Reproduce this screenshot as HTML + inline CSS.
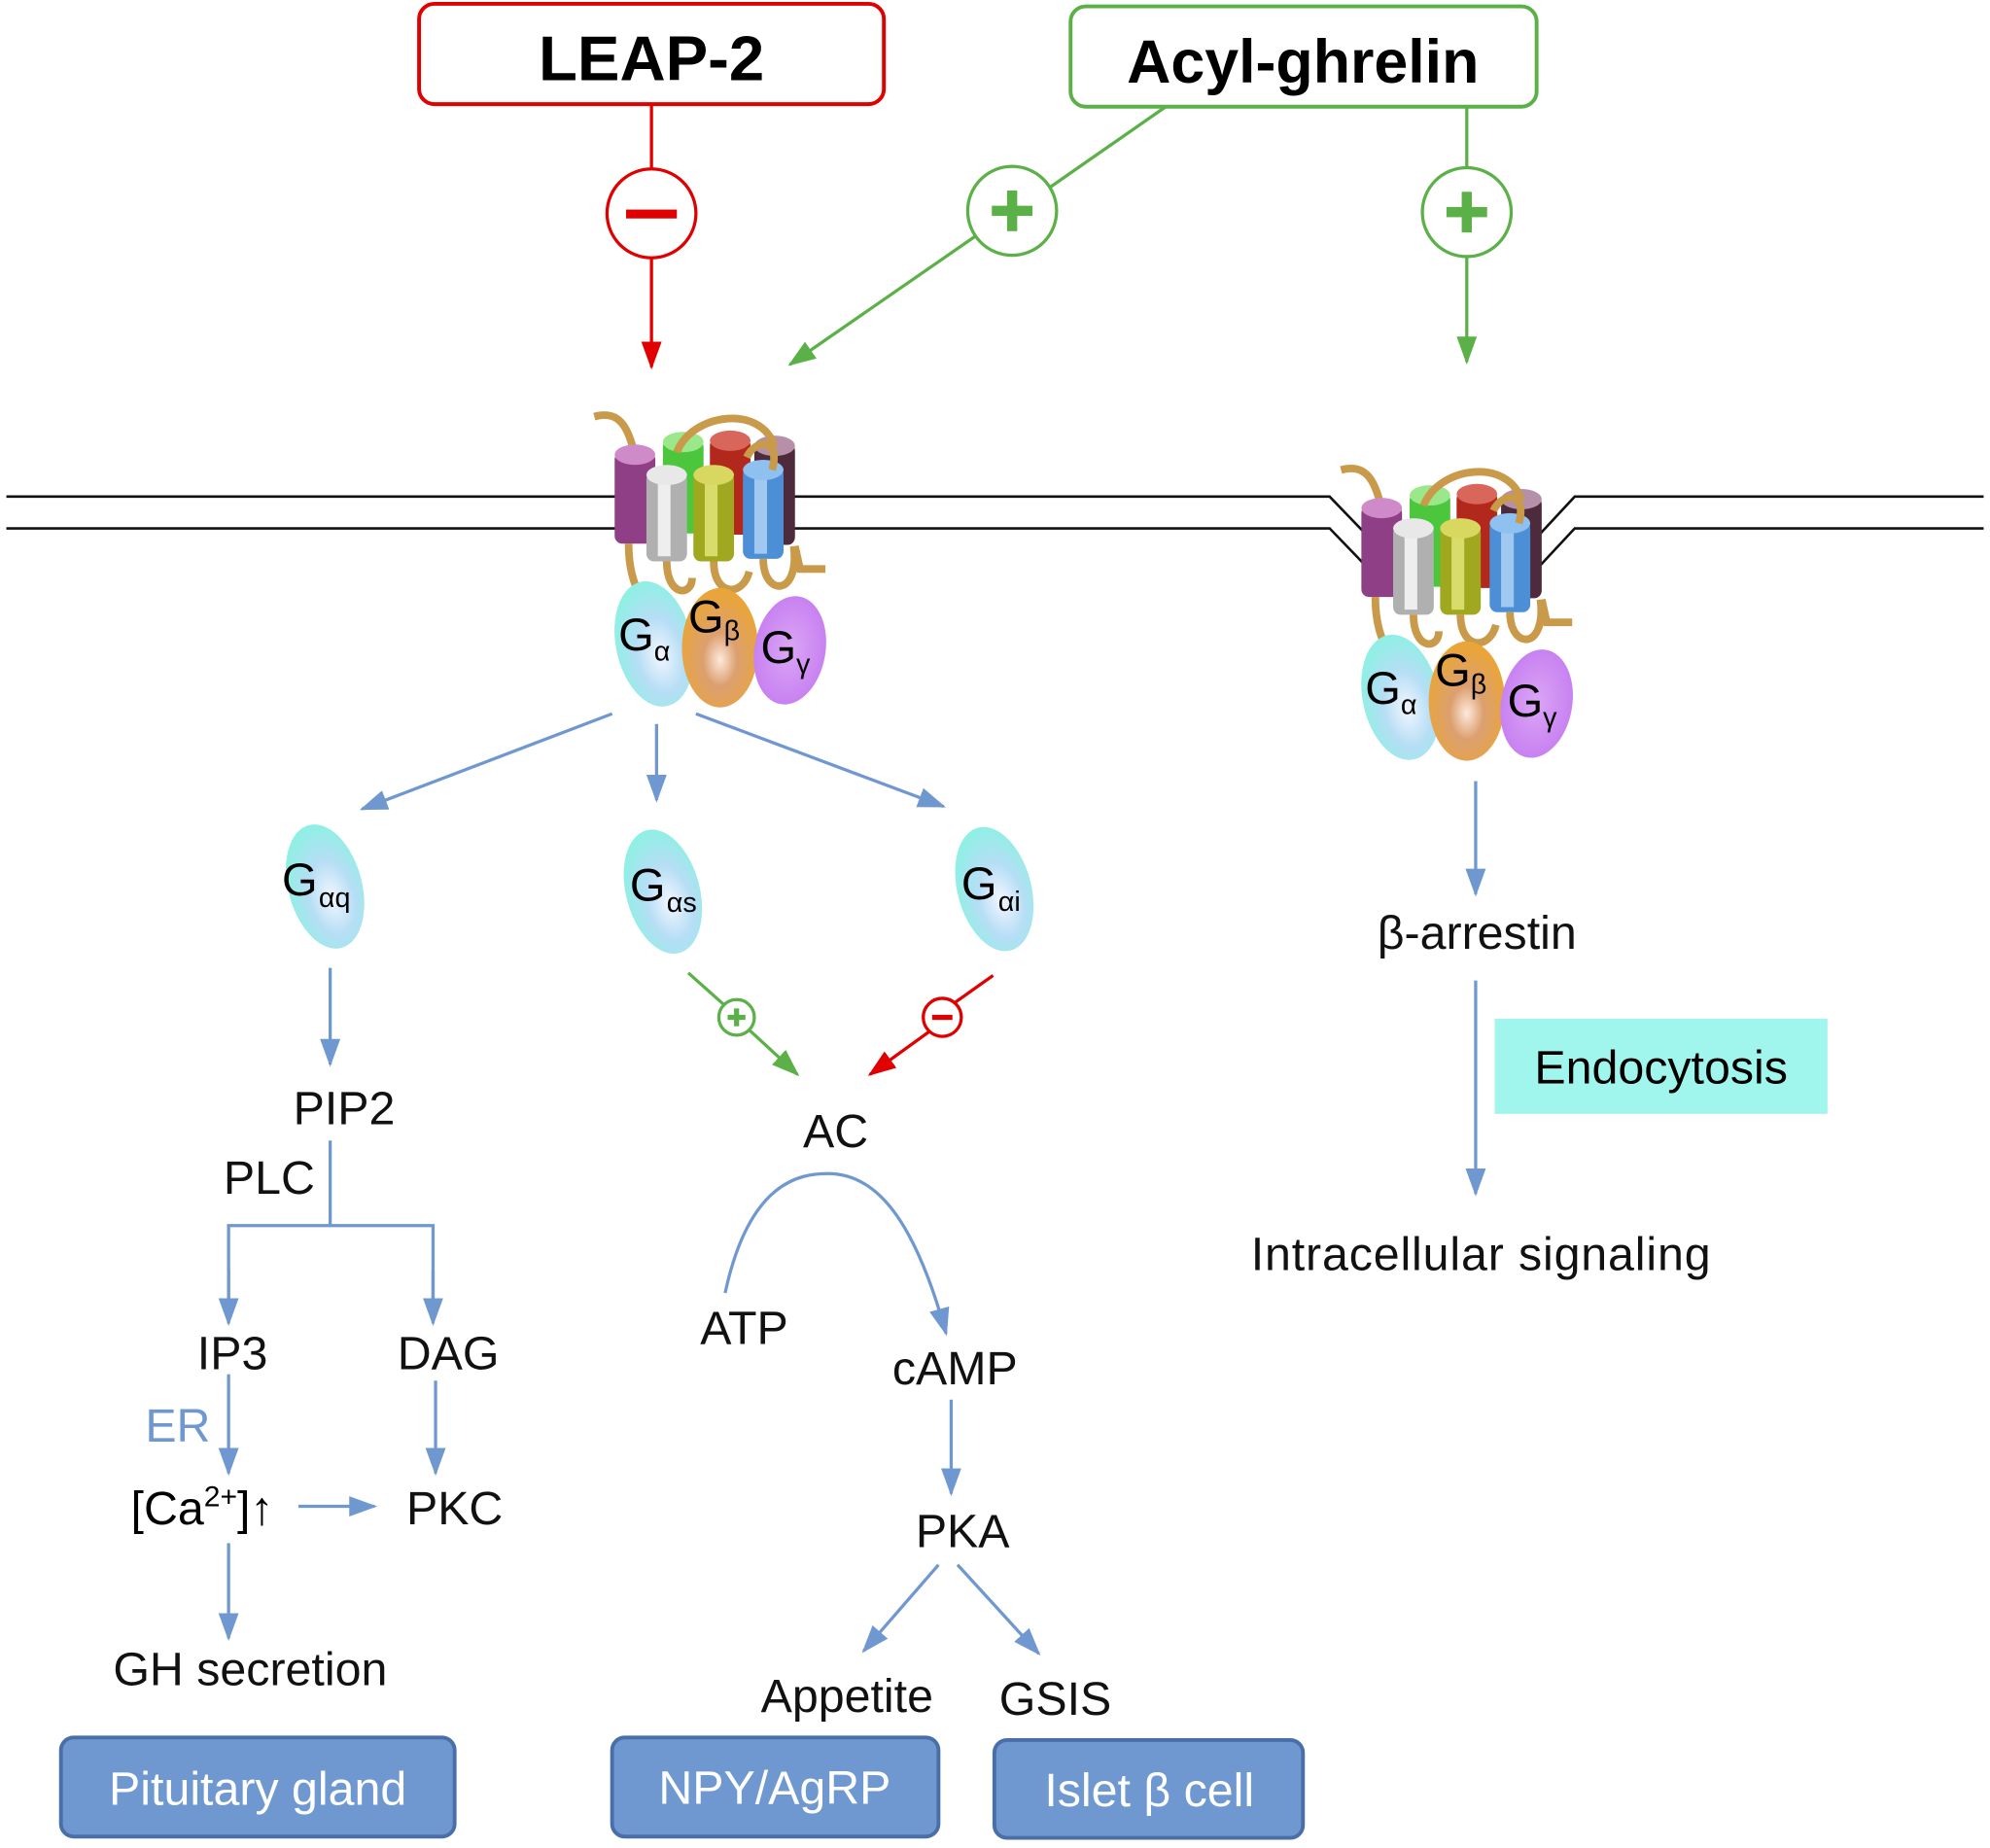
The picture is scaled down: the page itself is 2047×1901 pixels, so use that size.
<!DOCTYPE html>
<html><head><meta charset="utf-8"><style>html,body{margin:0;padding:0;background:#fff}svg{display:block}</style></head>
<body>
<svg width="2047" height="1901" viewBox="0 0 1567 1455" preserveAspectRatio="none" xmlns="http://www.w3.org/2000/svg" font-family="Liberation Sans, Arial, sans-serif">
<defs>
<marker id="ab2" markerWidth="22" markerHeight="16" refX="20" refY="8" orient="auto" markerUnits="userSpaceOnUse" viewBox="0 0 22 16"><path d="M0,0 L22,8 L0,16 z" fill="#6f98d1"/></marker>
<marker id="ar" markerWidth="22" markerHeight="16" refX="20" refY="8" orient="auto" markerUnits="userSpaceOnUse" viewBox="0 0 22 16"><path d="M0,0 L22,8 L0,16 z" fill="#e00000"/></marker>
<marker id="ag" markerWidth="22" markerHeight="16" refX="20" refY="8" orient="auto" markerUnits="userSpaceOnUse" viewBox="0 0 22 16"><path d="M0,0 L22,8 L0,16 z" fill="#5cb048"/></marker>
<radialGradient id="gc" cx="0.55" cy="0.6" r="0.6"><stop offset="0" stop-color="#f2f6ff"/><stop offset="0.5" stop-color="#b6def5"/><stop offset="1" stop-color="#8ef0e4"/></radialGradient>
<radialGradient id="go" cx="0.5" cy="0.6" r="0.55"><stop offset="0" stop-color="#fde9dc"/><stop offset="0.4" stop-color="#dca070"/><stop offset="1" stop-color="#e9a53a"/></radialGradient>
<radialGradient id="gp" cx="0.5" cy="0.5" r="0.6"><stop offset="0" stop-color="#dba6f5"/><stop offset="1" stop-color="#c47af0"/></radialGradient>
<g id="cylinders">
<path d="M468,328 C490,322 495,340 500,358" fill="none" stroke="#c99a4a" stroke-width="6"/>
<rect x="484" y="356" width="32" height="72" rx="6" fill="#8e3f86"/><ellipse cx="500" cy="358" rx="16" ry="8" fill="#cf8ac9"/>
<rect x="522" y="346" width="32" height="74" rx="6" fill="#4cc63c"/><ellipse cx="538" cy="348" rx="16" ry="8" fill="#9be88a"/>
<rect x="559" y="345" width="32" height="76" rx="6" fill="#b3281c"/><ellipse cx="575" cy="347" rx="16" ry="8" fill="#d9665a"/>
<rect x="594" y="349" width="32" height="80" rx="6" fill="#4d2a3c"/><ellipse cx="610" cy="351" rx="16" ry="8" fill="#b590a8"/>
<path d="M533,356 C545,325 600,318 610,352" fill="none" stroke="#c99a4a" stroke-width="6"/>
<rect x="509" y="372" width="32" height="70" rx="6" fill="#b0b0b0"/><rect x="518" y="376" width="10" height="62" fill="#eee"/><ellipse cx="525" cy="374" rx="16" ry="8" fill="#e8e8e8"/>
<rect x="546" y="372" width="32" height="70" rx="6" fill="#a0a820"/><rect x="555" y="376" width="10" height="62" fill="#d8dc6a"/><ellipse cx="562" cy="374" rx="16" ry="8" fill="#d8d860"/>
<rect x="585" y="368" width="32" height="72" rx="6" fill="#4d8fd6"/><rect x="594" y="372" width="10" height="64" fill="#a0c8f0"/><ellipse cx="601" cy="370" rx="16" ry="8" fill="#8ec0f0"/>
<path d="M588,360 C595,345 615,345 608,370" fill="none" stroke="#c99a4a" stroke-width="6"/>
<path d="M495,428 C495,450 500,462 505,470 M525,442 C525,470 545,470 545,455 M562,442 C562,470 585,470 590,450 M601,440 C601,470 630,470 625,430 M626,430 L630,448 L650,448" fill="none" stroke="#c99a4a" stroke-width="6"/>
</g>
<g id="gprot">
<ellipse cx="515" cy="507" rx="30" ry="50" fill="url(#gc)" transform="rotate(-12 515 507)"/>
<ellipse cx="567" cy="510" rx="30" ry="47" fill="url(#go)"/>
<ellipse cx="622" cy="512" rx="28" ry="43" fill="url(#gp)" transform="rotate(10 622 512)"/>
<text x="487" y="512" font-size="36">G</text><text x="515" y="520" font-size="22">α</text>
<text x="542" y="498" font-size="36">G</text><text x="570" y="504" font-size="22">β</text>
<text x="599" y="522" font-size="36">G</text><text x="627" y="530" font-size="22">γ</text>
</g>
</defs>

<rect x="330" y="3" width="366" height="79" rx="12" fill="#fff" stroke="#e00000" stroke-width="3"/>
<text x="513" y="63" font-size="50" font-weight="bold" text-anchor="middle">LEAP-2</text>
<rect x="843" y="5" width="367" height="79" rx="12" fill="#fff" stroke="#5cb048" stroke-width="3"/>
<text x="1026" y="65" font-size="48" font-weight="bold" text-anchor="middle">Acyl-ghrelin</text>

<line x1="513" y1="82" x2="513" y2="133" stroke="#e00000" stroke-width="2.5"/>
<circle cx="513" cy="168" r="35" fill="#fff" stroke="#e00000" stroke-width="2.5"/>
<rect x="493" y="165" width="40" height="7" fill="#e00000"/>
<line x1="513" y1="203" x2="513" y2="289" stroke="#e00000" stroke-width="2.5" marker-end="url(#ar)"/>
<line x1="918" y1="84" x2="826" y2="148" stroke="#5cb048" stroke-width="2.5"/>
<circle cx="797" cy="166" r="35" fill="#fff" stroke="#5cb048" stroke-width="2.5"/>
<rect x="781" y="162" width="32" height="8" fill="#5cb048"/><rect x="793" y="150" width="8" height="32" fill="#5cb048"/>
<line x1="768" y1="186" x2="622" y2="287" stroke="#5cb048" stroke-width="2.5" marker-end="url(#ag)"/>
<line x1="1155" y1="84" x2="1155" y2="132" stroke="#5cb048" stroke-width="2.5"/>
<circle cx="1155" cy="167" r="35" fill="#fff" stroke="#5cb048" stroke-width="2.5"/>
<rect x="1139" y="163" width="32" height="8" fill="#5cb048"/><rect x="1151" y="151" width="8" height="32" fill="#5cb048"/>
<line x1="1155" y1="202" x2="1155" y2="285" stroke="#5cb048" stroke-width="2.5" marker-end="url(#ag)"/>

<g stroke="#111" stroke-width="2" fill="none">
<polyline points="5,391 1047,391 1075,420"/><polyline points="5,416 1047,416 1075,445"/>
<polyline points="1562,391 1240,391 1213,420"/><polyline points="1562,416 1240,416 1213,445"/>
</g>
<use href="#cylinders"/><use href="#gprot"/>
<use href="#cylinders" transform="translate(588,42)"/><use href="#gprot" transform="translate(588,42)"/>

<g stroke="#6f98d1" stroke-width="2.5" fill="none">
<line x1="482" y1="562" x2="285" y2="637" marker-end="url(#ab2)"/>
<line x1="517" y1="570" x2="517" y2="630" marker-end="url(#ab2)"/>
<line x1="548" y1="562" x2="743" y2="635" marker-end="url(#ab2)"/>
<line x1="260" y1="762" x2="260" y2="838" marker-end="url(#ab2)"/>
<polyline points="260,898 260,965"/><polyline points="180,1040 180,965 341,965 341,1040"/>
<line x1="180" y1="1000" x2="180" y2="1042" marker-end="url(#ab2)"/>
<line x1="341" y1="1000" x2="341" y2="1042" marker-end="url(#ab2)"/>
<line x1="180" y1="1082" x2="180" y2="1160" marker-end="url(#ab2)"/>
<line x1="343" y1="1087" x2="343" y2="1160" marker-end="url(#ab2)"/>
<line x1="235" y1="1186" x2="295" y2="1186" marker-end="url(#ab2)"/>
<line x1="180" y1="1215" x2="180" y2="1290" marker-end="url(#ab2)"/>
<path d="M571,1018 C590,930 630,924 652,924 C690,924 720,960 745,1050" marker-end="url(#ab2)"/>
<line x1="749" y1="1102" x2="749" y2="1176" marker-end="url(#ab2)"/>
<line x1="739" y1="1232" x2="680" y2="1300" marker-end="url(#ab2)"/>
<line x1="754" y1="1232" x2="818" y2="1302" marker-end="url(#ab2)"/>
<line x1="1162" y1="615" x2="1162" y2="704" marker-end="url(#ab2)"/>
<line x1="1162" y1="772" x2="1162" y2="940" marker-end="url(#ab2)"/>
</g>

<ellipse cx="256" cy="698" rx="29" ry="50" fill="url(#gc)" transform="rotate(-15 256 698)"/>
<ellipse cx="522" cy="702" rx="29" ry="50" fill="url(#gc)" transform="rotate(-15 522 702)"/>
<ellipse cx="783" cy="700" rx="29" ry="50" fill="url(#gc)" transform="rotate(-15 783 700)"/>
<text x="222" y="705" font-size="36">G</text><text x="251" y="714" font-size="22">αq</text>
<text x="496" y="709" font-size="36">G</text><text x="525" y="718" font-size="22">αs</text>
<text x="757" y="708" font-size="36">G</text><text x="786" y="717" font-size="22">αi</text>

<line x1="542" y1="766" x2="570" y2="791" stroke="#5cb048" stroke-width="2.5"/>
<circle cx="580" cy="801" r="14" fill="#fff" stroke="#5cb048" stroke-width="2.5"/>
<rect x="573" y="799" width="14" height="4" fill="#5cb048"/><rect x="578" y="794" width="4" height="14" fill="#5cb048"/>
<line x1="590" y1="811" x2="628" y2="846" stroke="#5cb048" stroke-width="2.5" marker-end="url(#ag)"/>
<line x1="782" y1="768" x2="751" y2="790" stroke="#e00000" stroke-width="2.5"/>
<circle cx="742" cy="801" r="15" fill="#fff" stroke="#e00000" stroke-width="2.5"/>
<rect x="734" y="799" width="16" height="4" fill="#e00000"/>
<line x1="732" y1="812" x2="685" y2="846" stroke="#e00000" stroke-width="2.5" marker-end="url(#ar)"/>

<g font-size="37" fill="#111" text-anchor="middle">
<text x="271" y="885">PIP2</text>
<text x="212" y="940">PLC</text>
<text x="183" y="1078">IP3</text>
<text x="353" y="1078">DAG</text>
<text x="140" y="1135" fill="#6f98d1">ER</text>
<text x="358" y="1200">PKC</text>
<text x="197" y="1327">GH secretion</text>
<text x="658" y="903">AC</text>
<text x="586" y="1058">ATP</text>
<text x="752" y="1090">cAMP</text>
<text x="758" y="1218">PKA</text>
<text x="667" y="1348">Appetite</text>
<text x="831" y="1350">GSIS</text>
<text x="1163" y="747">β-arrestin</text>
<text x="1166" y="1000" textLength="362">Intracellular signaling</text>
</g>
<text x="103" y="1200" font-size="37">[Ca<tspan font-size="23" dy="-14">2+</tspan><tspan dy="14">]↑</tspan></text>

<rect x="1177" y="802" width="262" height="75" fill="#a0f5ec"/>
<text x="1308" y="853" font-size="37" text-anchor="middle">Endocytosis</text>

<g fill="#6f98d1" stroke="#4a6fa8" stroke-width="3">
<rect x="48" y="1368" width="310" height="78" rx="10"/>
<rect x="482" y="1368" width="257" height="78" rx="10"/>
<rect x="783" y="1370" width="243" height="77" rx="10"/>
</g>
<g fill="#fff" font-size="37" text-anchor="middle">
<text x="203" y="1421">Pituitary gland</text>
<text x="610" y="1420">NPY/AgRP</text>
<text x="905" y="1422">Islet β cell</text>
</g>
</svg>
</body></html>
